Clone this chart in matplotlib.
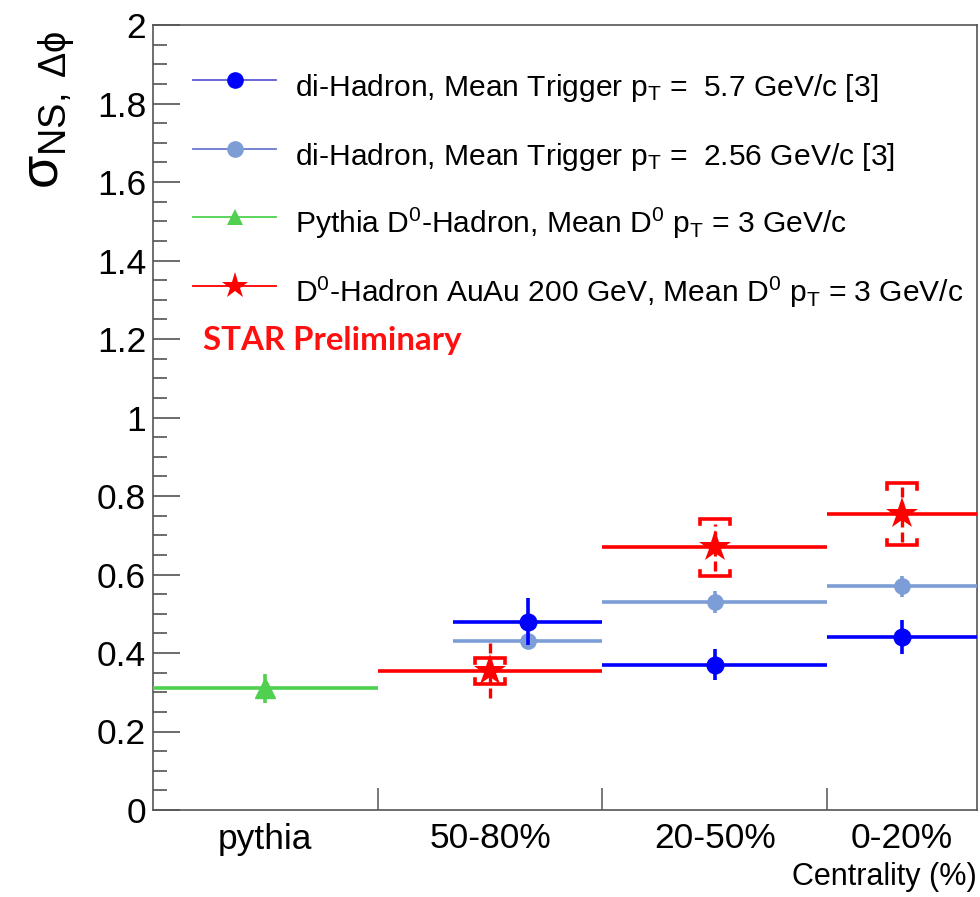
import matplotlib
matplotlib.use('Agg')
import matplotlib.pyplot as plt
from matplotlib.lines import Line2D

plt.rcParams['font.family'] = ['Liberation Sans', 'DejaVu Sans']
plt.rcParams['mathtext.fontset'] = 'custom'
plt.rcParams['mathtext.rm'] = 'Liberation Sans'
plt.rcParams['mathtext.it'] = 'Liberation Sans'
plt.rcParams['mathtext.sf'] = 'Liberation Sans'
plt.rcParams['mathtext.bf'] = 'Liberation Sans:bold'

# Centrality bins (%); peripheral on the left, central on the right
bin_labels = ['pythia', '50-80%', '20-50%', '0-20%']
bin_lo = [80, 50, 20, 0]
bin_hi = [110, 80, 50, 20]

# PYTHIA D0-hadron reference
pythia_lo = [80]
pythia_hi = [110]
pythia_val = [0.31]
pythia_err = [0.037]

# D0-hadron, Au+Au 200 GeV
d0_lo = [50, 20, 0]
d0_hi = [80, 50, 20]
d0_val = [0.355, 0.669, 0.754]
d0_stat = [0.070, 0.060, 0.070]
d0_sys = [0.033, 0.073, 0.078]

# di-hadron widths
dh_lo = [50, 20, 0]
dh_hi = [70, 50, 20]
dh57_val = [0.48, 0.37, 0.44]
dh57_err = [0.060, 0.040, 0.043]
dh256_val = [0.43, 0.53, 0.57]
dh256_err = [0.020, 0.027, 0.027]

C_BLUE = '#0000ff'
C_LBLUE = '#7d9dd6'
C_GREEN = '#4fd14f'
C_RED = '#ff0000'


def centers(lo, hi):
    return [(a + b) / 2 for a, b in zip(lo, hi)], [(b - a) / 2 for a, b in zip(lo, hi)]


fig = plt.figure(figsize=(9.8, 8.97), dpi=100)
ax = fig.add_axes([153 / 980, 1 - 810 / 897, (977 - 153) / 980, (810 - 25) / 897])

# PYTHIA
x, xe = centers(pythia_lo, pythia_hi)
ax.errorbar(x, pythia_val, xerr=xe, yerr=pythia_err, fmt='^', color=C_GREEN,
            ms=15, elinewidth=2.6, capsize=0, zorder=3)

# D0-hadron Au+Au: stat (dashed vertical) and systematic brackets
x, xe = centers(d0_lo, d0_hi)
ax.errorbar(x, d0_val, xerr=xe, fmt='none', ecolor=C_RED, elinewidth=2.6,
            capsize=0, zorder=3)
ax.vlines(x, [v - s for v, s in zip(d0_val, d0_stat)],
          [v + s for v, s in zip(d0_val, d0_stat)], colors=C_RED,
          linestyles=(0, (3, 1.5)), linewidth=2.4, zorder=3)
w, t = 2.0, 0.013
for xc, v, s in zip(x, d0_val, d0_sys):
    hi, lo = v + s, v - s
    ax.plot([xc - w, xc - w, xc + w, xc + w], [hi - t, hi, hi, hi - t],
            color=C_RED, lw=2.6, solid_joinstyle='miter', zorder=3)
    ax.plot([xc - w, xc - w, xc + w, xc + w], [lo + t, lo, lo, lo + t],
            color=C_RED, lw=2.6, solid_joinstyle='miter', zorder=3)
ax.plot(x, d0_val, linestyle='none', marker='*', ms=24, color=C_RED,
        markeredgewidth=0, zorder=4)

# di-hadron
x, xe = centers(dh_lo, dh_hi)
ax.errorbar(x, dh256_val, xerr=xe, yerr=dh256_err, fmt='o', color=C_LBLUE,
            ms=11, elinewidth=2.6, capsize=0, zorder=5)
ax.errorbar(x, dh57_val, xerr=xe, yerr=dh57_err, fmt='o', color=C_BLUE,
            ms=12, elinewidth=2.6, capsize=0, zorder=6)

# Axes styling
ax.set_xlim(110, 0)
ax.set_ylim(0, 2)
for sp in ax.spines.values():
    sp.set_color('#555555')
    sp.set_linewidth(1.2)

ax.set_yticks([0, 0.2, 0.4, 0.6, 0.8, 1.0, 1.2, 1.4, 1.6, 1.8, 2.0])
ax.set_yticklabels(['0', '0.2', '0.4', '0.6', '0.8', '1', '1.2', '1.4', '1.6', '1.8', '2'])
ax.set_yticks([i * 0.05 for i in range(41)], minor=True)
ax.tick_params(axis='y', which='major', direction='in', length=19.5, width=1.1,
               color='#444444', labelsize=25.5, pad=5)
ax.tick_params(axis='y', which='minor', direction='in', length=10, width=1.1,
               color='#444444')

ax.set_xticks([80, 50, 20])
ax.set_xticklabels([])
ax.set_xticks([(a + b) / 2 for a, b in zip(bin_lo, bin_hi)], minor=True)
ax.set_xticklabels(bin_labels, minor=True)
ax.tick_params(axis='x', which='major', direction='in', length=16, width=1.1,
               color='#555555')
ax.tick_params(axis='x', which='minor', length=0, labelsize=25.5, pad=9)

ax.set_ylabel(r'$\sigma_{\mathrm{NS,\;\Delta\phi}}$', fontsize=39, loc='top')
ax.yaxis.set_label_coords(-0.092, 0.993)
ax.text(1.0, -0.085, 'Centrality (%)', transform=ax.transAxes, ha='right',
        va='center', fontsize=22)

# Legend
entries = [
    (C_BLUE, '#5a5ad6', 'o', 12, r'di-Hadron, Mean Trigger p$_{\mathrm{T}}$ =  5.7 GeV/c [3]'),
    (C_LBLUE, '#6a7ad0', 'o', 12, r'di-Hadron, Mean Trigger p$_{\mathrm{T}}$ =  2.56 GeV/c [3]'),
    (C_GREEN, C_GREEN, '^', 11, r'Pythia D$^{0}$-Hadron, Mean D$^{0}$ p$_{\mathrm{T}}$ = 3 GeV/c'),
    (C_RED, C_RED, '*', 20, r'D$^{0}$-Hadron AuAu 200 GeV, Mean D$^{0}$ p$_{\mathrm{T}}$ = 3 GeV/c'),
]
ax_h = 810 - 25
ax_w = 977 - 153
for i, (mc, lc, mk, ms, label) in enumerate(entries):
    ypx = 80 + 68.5 * i
    ya = (810 - ypx) / ax_h
    xa0, xa1, xm = (193 - 153) / ax_w, (276 - 153) / ax_w, (235 - 153) / ax_w
    ax.add_line(Line2D([xa0, xa1], [ya, ya], color=lc, lw=1.3,
                       transform=ax.transAxes, zorder=7))
    ax.add_line(Line2D([xm], [ya], marker=mk, ms=ms, color=mc, markeredgewidth=0,
                       transform=ax.transAxes, zorder=8))
    ax.text((295 - 153) / ax_w, (810 - ypx - 16) / ax_h, label,
            transform=ax.transAxes, fontsize=21.6, ha='left', va='baseline')

ax.text((203 - 153) / ax_w, (810 - 350) / ax_h, 'STAR Preliminary',
        transform=ax.transAxes, fontsize=23.8, fontfamily='Lato',
        fontweight='bold', color='#ff1010', ha='left', va='baseline')

fig.savefig('out.png', dpi=100)
